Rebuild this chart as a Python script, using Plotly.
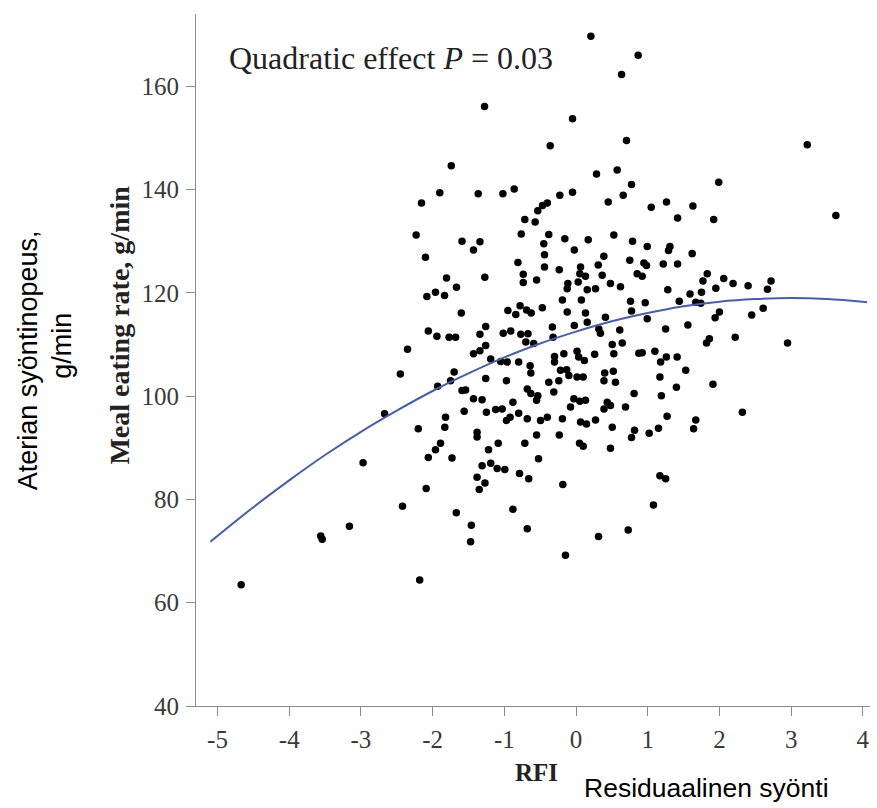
import plotly.graph_objects as go

# ---- data ----
rfi = [
    -2.155, 0.207, 0.867, 0.635, -1.276, -0.049, 0.704, -0.36, -1.74, 0.286, 0.574, 0.774,
    -1.90, -1.364, -1.02, -0.862, -0.226, -0.049, 0.449, 0.658, -0.40, -0.467, -0.533, -0.714, -0.57,
    3.225, 1.99, 1.049, 1.262, 1.63, 1.416, 1.92, 3.624,
    -2.23, -2.10, -2.08, -2.06, -2.35, -2.45, -2.67, -2.20,
    -2.97, -2.06, -2.09, -2.42, -3.16, -3.56, -3.54, -4.67, -2.18,
    1.17, 1.25, 1.08,
    -1.38, -1.89, -1.96, -1.73, -1.22, -1.085, -0.714, -0.55, -0.234, 0.049, 0.10, 0.48, 0.774,
    -0.523, -1.31, -1.19, -1.10, -0.993, -0.788, -0.66, -1.38, -1.27, -1.35, -0.184, -1.67, -0.88,
    -1.46, -0.68, -1.47, 0.314, 0.728, -0.147,
    0.993, 1.31, 1.29, 1.62, 0.946, 0.983, 1.216, 1.416, 0.923, 1.83, 1.77, 2.06, 2.19, 2.40,
    2.72, 2.67, 1.28, 1.95, 1.59, 1.75, 0.965, 1.44, 1.67, 1.74, 0.993, 2.0, 1.94, 2.61, 2.45,
    1.25, 1.56, 2.22, 1.86, 1.82, 2.95, 0.923, 1.10, 1.26, 1.18, 1.41, 1.53, 1.17, 1.91, 1.40,
    1.19, 2.32, 1.27, 1.67, 1.64, 1.15, 1.02,
    -1.59, -1.43, -1.34, -0.764, -0.38, -0.45, -0.156, 0.17, 0.527, 0.788, -0.024, 0.388, -0.44,
    -0.81, -0.44, -0.234, 0.063, 0.31, 0.75, 0.853, -1.272, -1.806, -1.667, -1.96, -1.834,
    -0.736, -0.736, -0.55, 0.053, 0.132, 0.365, -0.114, -0.123, 0.03, 0.156, 0.272, 0.48, 0.62,
    -0.19, 0.075, 0.76, 0.774, -1.60, -0.95, -0.84, -0.78, -0.69, -0.625, -0.47, -0.123, 0.132,
    0.41, -0.024, 0.156, 0.318, 0.34, 0.61, -1.94, -1.77, -1.68, -1.26, -1.34, -1.015, -0.91,
    -0.77, -0.67, -0.70, -0.59, -0.33, -0.32, -1.43, -1.34, -1.26, -1.19, -1.05, -0.96, -0.80,
    -0.64, -0.63, -0.30, -0.30, -0.17, 0.014, 0.037, 0.116, 0.26, 0.505, 0.645, 0.527, 0.876,
    -1.70, -1.75, -1.93, -1.26, -0.97, -0.216, -0.13, -0.10, -0.24, -0.38, 0.014, 0.10, 0.40,
    0.39, 0.52, 0.55, -1.59, -1.54, -1.43, -1.31, -0.68, -0.63, -0.533, -0.55, -0.31, -0.03,
    0.053, 0.132, -0.077, 0.435, 0.48, 0.81, 0.69, 0.39, -1.56, -1.12, -1.03, -0.88, -1.25,
    -0.97, -0.92, -0.80, -0.68, -0.495, -0.40, -0.19, 0.063, 0.146, 0.272, -1.82, -1.83, -1.38,
    0.505, 0.816,
]
meal_rate = [
    137.4, 169.7, 166.0, 162.3, 156.1, 153.7, 149.5, 148.5, 144.6, 143.0, 143.8, 141.0,
    139.4, 139.2, 139.2, 140.1, 138.9, 139.5, 137.6, 138.9, 137.4, 136.9, 135.9, 134.2, 133.7,
    148.7, 141.4, 136.6, 137.6, 136.8, 134.5, 134.2, 135.0,
    131.2, 126.9, 119.3, 112.6, 109.1, 104.3, 96.6, 93.7,
    87.1, 88.1, 82.1, 78.7, 74.8, 72.9, 72.3, 63.5, 64.4,
    84.6, 84.0, 78.9,
    92.1, 90.9, 89.6, 88.0, 89.6, 90.9, 90.9, 92.5, 92.5, 90.9, 90.3, 89.9, 92.0,
    87.9, 86.5, 87.0, 86.0, 85.8, 85.0, 84.0, 84.3, 83.2, 81.9, 82.9, 77.4, 78.1,
    75.0, 74.3, 71.8, 72.8, 74.1, 69.2,
    129.0, 129.0, 128.2, 127.6, 125.8, 125.3, 125.6, 125.6, 123.2, 123.7, 122.3, 122.8, 121.8, 121.4,
    122.3, 120.7, 120.6, 120.9, 119.8, 120.1, 118.1, 118.4, 118.2, 118.0, 115.0, 116.3, 115.2, 117.0, 115.7,
    113.0, 113.8, 111.4, 111.1, 110.3, 110.3, 108.4, 108.7, 107.6, 106.6, 107.6, 105.0, 103.7, 102.3, 101.7,
    100.1, 96.9, 96.1, 95.4, 93.7, 93.8, 92.8,
    130.0, 128.3, 129.9, 131.4, 131.3, 129.5, 130.5, 130.3, 131.2, 130.0, 128.3, 127.1, 127.4,
    125.9, 125.0, 124.5, 125.0, 125.4, 126.3, 123.7, 123.0, 122.9, 121.1, 120.1, 119.5,
    123.6, 122.0, 122.5, 123.7, 123.2, 123.4, 121.8, 120.8, 122.1, 120.6, 120.8, 121.8, 121.2,
    118.6, 118.6, 118.4, 116.5, 116.1, 116.6, 115.8, 117.5, 116.7, 116.1, 117.1, 116.3, 116.1,
    115.3, 113.7, 114.3, 113.0, 112.2, 112.8, 111.6, 111.4, 111.4, 113.5, 112.0, 112.2, 112.6,
    112.0, 112.1, 110.5, 110.2, 113.4, 111.4, 108.2, 108.8, 109.8, 107.2, 106.7, 106.6, 106.6,
    105.9, 104.5, 107.7, 106.6, 108.2, 108.7, 107.6, 106.9, 108.1, 110.0, 110.3, 108.2, 108.3,
    104.7, 103.0, 101.9, 103.4, 103.0, 105.0, 105.1, 104.0, 103.0, 102.7, 103.7, 103.7, 104.5,
    103.0, 104.8, 102.7, 101.1, 101.2, 99.5, 99.3, 101.4, 100.5, 100.1, 99.2, 100.8, 99.5,
    99.0, 99.2, 97.9, 98.8, 98.2, 100.5, 97.9, 97.5, 97.1, 97.4, 97.5, 98.8, 96.9,
    95.3, 95.9, 96.7, 95.6, 95.3, 95.9, 95.6, 95.0, 94.6, 95.4, 95.9, 94.0, 93.0,
    94.0, 93.4,
]
curve_rfi = [-5.1, -4.5, -4.0, -3.5, -3.0, -2.5, -2.0, -1.5, -1.0, -0.5, 0.0,
             0.5, 1.0, 1.5, 2.0, 2.5, 3.0, 3.5, 4.06]
curve_rate = [71.8, 78.5, 83.7, 88.6, 93.1, 97.2, 101.0, 104.4, 107.5, 110.2, 112.5,
              114.5, 116.1, 117.4, 118.3, 118.8, 119.0, 118.8, 118.2]
x_ticks = [-5, -4, -3, -2, -1, 0, 1, 2, 3, 4]
y_ticks = [40, 60, 80, 100, 120, 140, 160]

SERIF = "Liberation Serif"
SANS = "Liberation Sans"

fig = go.Figure()
fig.add_trace(go.Scatter(
    x=rfi, y=meal_rate, mode="markers",
    marker=dict(color="black", size=7.5), hoverinfo="skip", showlegend=False))
fig.add_trace(go.Scatter(
    x=curve_rfi, y=curve_rate, mode="lines", line=dict(color="#4a5ea6", width=2, shape="spline"),
    hoverinfo="skip", showlegend=False))

tick_font = dict(family=SERIF, size=25, color="#3a3a3a")
fig.update_layout(
    width=877, height=808,
    margin=dict(l=196, r=7, t=14, b=102),
    plot_bgcolor="white", paper_bgcolor="white",
    font=dict(family=SERIF, size=25, color="#3a3a3a"),
    xaxis=dict(range=[-5.30, 4.10], tickmode="array", tickvals=x_ticks,
               ticktext=[str(t) for t in x_ticks], tickfont=tick_font,
               showgrid=False, zeroline=False, showline=True, linecolor="#8a8a8a", linewidth=1,
               ticks="outside", tickcolor="#8a8a8a", ticklen=9, tickwidth=1, ticklabelstandoff=2),
    yaxis=dict(range=[40, 174], tickmode="array", tickvals=y_ticks,
               ticktext=[str(t) for t in y_ticks], tickfont=tick_font,
               showgrid=False, zeroline=False, showline=True, linecolor="#8a8a8a", linewidth=1,
               ticks="outside", tickcolor="#8a8a8a", ticklen=9, tickwidth=1, ticklabelstandoff=2),
    annotations=[
        dict(text="Quadratic effect <i>P</i> = 0.03", x=0.046, y=0.937, xref="paper", yref="paper",
             xanchor="left", yanchor="middle", showarrow=False,
             font=dict(family=SERIF, size=32, color="#222")),
        dict(text="<b>Meal eating rate, g/min</b>", x=-0.114, y=0.55, xref="paper", yref="paper",
             xanchor="center", yanchor="middle",
             textangle=-90, showarrow=False, font=dict(family=SERIF, size=28, color="#222")),
        dict(text="Aterian syöntinopeus,", x=-0.25, y=0.499, xref="paper", yref="paper",
             xanchor="center", yanchor="middle",
             textangle=-90, showarrow=False,
             font=dict(family=SANS, size=27, color="black")),
        dict(text="g/min", x=-0.198, y=0.52, xref="paper", yref="paper",
             xanchor="center", yanchor="middle",
             textangle=-90, showarrow=False,
             font=dict(family=SANS, size=27, color="black")),
        dict(text="<b>RFI</b>", x=0.5045, y=-0.0968, xref="paper", yref="paper",
             xanchor="center", yanchor="middle",
             showarrow=False, font=dict(family=SERIF, size=25, color="#222")),
        dict(text="Residuaalinen syönti", x=0.572, y=-0.1185, xref="paper", yref="paper",
             xanchor="left", yanchor="middle", showarrow=False,
             font=dict(family=SANS, size=26.5, color="black")),
    ],
)

fig.write_html("out.html")
